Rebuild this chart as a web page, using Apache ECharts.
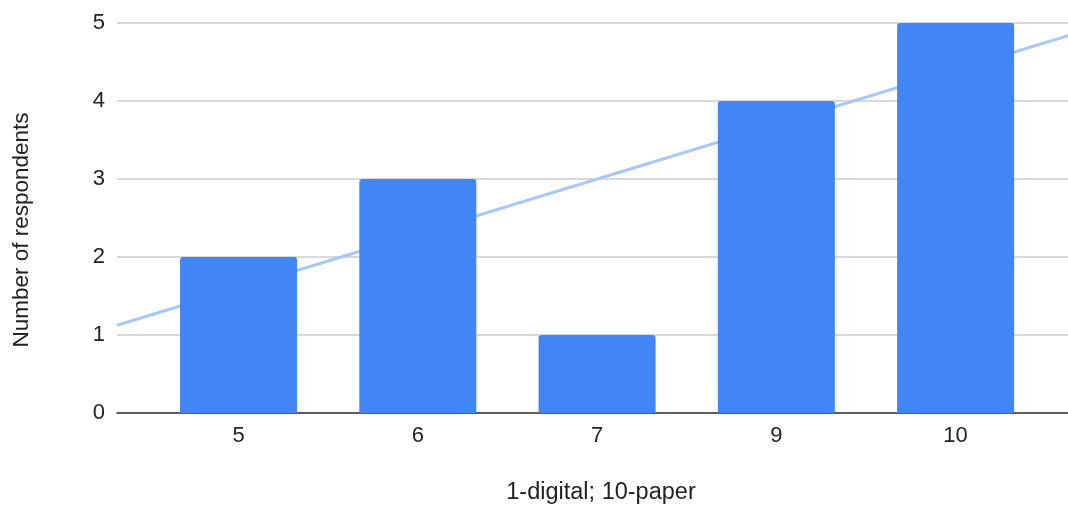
<!DOCTYPE html>
<html>
<head>
<meta charset="utf-8">
<script src="https://cdn.jsdelivr.net/npm/echarts@6/dist/echarts.min.js"></script>
<style>html,body{margin:0;padding:0;background:#fff}#c{width:1068px;height:506px}</style>
</head>
<body>
<div id="c"></div>
<script>
const categories = ['5', '6', '7', '9', '10'];
const respondents = [2, 3, 1, 4, 5];
const yTicks = [0, 1, 2, 3, 4, 5];
const xTitle = '1-digital; 10-paper';
const yTitle = 'Number of respondents';

// linear trendline (least squares over category positions)
const idx = categories.map((_, i) => i);
const n = idx.length;
const mx = idx.reduce((a, b) => a + b, 0) / n;
const my = respondents.reduce((a, b) => a + b, 0) / n;
let sxy = 0, sxx = 0;
idx.forEach((x, i) => { sxy += (x - mx) * (respondents[i] - my); sxx += (x - mx) * (x - mx); });
const slope = sxy / sxx, intercept = my - slope * mx;
const xMin = -0.678, xMax = 4.627;
const trend = [[xMin, intercept + slope * xMin], [xMax, intercept + slope * xMax]];

const font = 'Liberation Sans, Arial, sans-serif';
const chart = echarts.init(document.getElementById('c'));
chart.setOption({
  animation: false,
  grid: { left: 117, right: 0, top: 23, bottom: 93 },
  xAxis: {
    type: 'value', min: xMin, max: xMax,
    axisLine: { show: true, lineStyle: { color: '#333', width: 1.5 } },
    axisTick: { show: false },
    splitLine: { show: false },
    axisLabel: {
      customValues: idx, formatter: v => categories[Math.round(v)],
      color: '#222', fontSize: 22, fontFamily: font, margin: 12
    }
  },
  yAxis: {
    type: 'value', min: 0, max: 5, interval: 1,
    axisLine: { show: false }, axisTick: { show: false },
    axisLabel: { color: '#222', fontSize: 22, fontFamily: font, margin: 12,
      formatter: v => yTicks.includes(v) ? String(v) : '' },
    splitLine: { lineStyle: { color: '#ccc', width: 1.5 } }
  },
  graphic: [
    { type: 'text', x: 22, y: 230, rotation: Math.PI / 2,
      style: { text: yTitle, font: '22.5px ' + font, fill: '#222', align: 'center', verticalAlign: 'middle' } },
    { type: 'text', x: 601, y: 493,
      style: { text: xTitle, font: '23.5px ' + font, fill: '#222', align: 'center', verticalAlign: 'middle' } }
  ],
  series: [
    { type: 'line', data: trend, symbol: 'none', z: 1,
      lineStyle: { color: '#a8c7fa', width: 3 } },
    { type: 'bar', z: 2, barWidth: 117,
      data: respondents.map((v, i) => [i, v]),
      itemStyle: { color: '#4285f4', borderRadius: [3, 3, 0, 0] } }
  ]
});
</script>
</body>
</html>
